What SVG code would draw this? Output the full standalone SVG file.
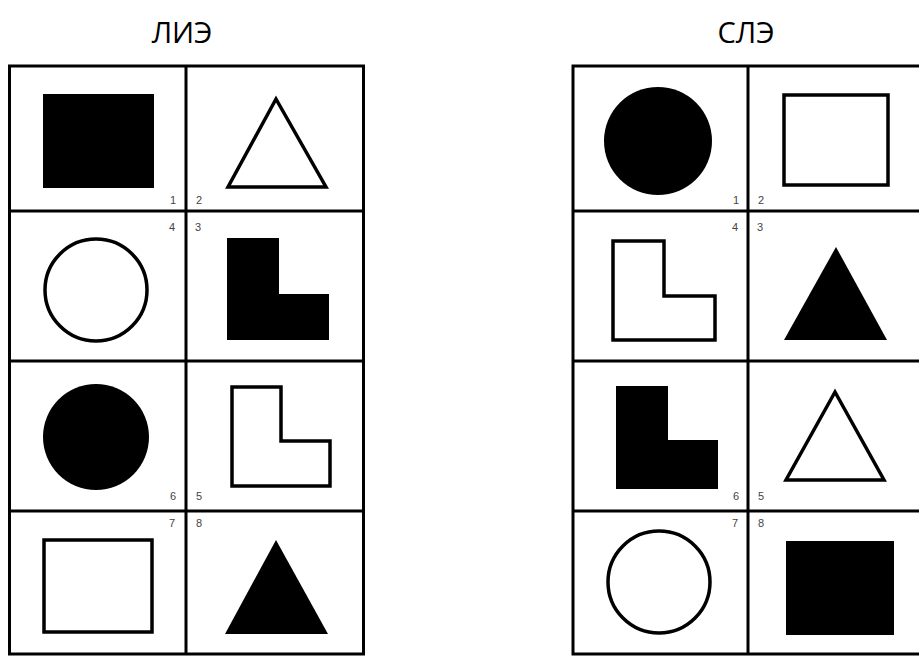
<svg xmlns="http://www.w3.org/2000/svg" width="919" height="657" viewBox="0 0 919 657">
<style>
.grid{fill:none;stroke:#000;stroke-width:3}
.o{fill:#fff;stroke:#000;stroke-width:3.5;stroke-linejoin:miter}
.f{fill:#000;stroke:none}
.t{font-family:"Open Sans","DejaVu Sans",sans-serif;font-size:29px;fill:#000;text-anchor:middle}
.n{font-family:"Liberation Sans",sans-serif;font-size:11px;fill:#444;text-anchor:middle}
</style>
<rect width="919" height="657" fill="#fff"/>
<text class="t" x="182" y="43">ЛИЭ</text>
<text class="t" x="746" y="43">СЛЭ</text>
<g id="grid-left">
<rect class="grid" x="9.5" y="66" width="354" height="588"/>
<line class="grid" x1="186" y1="66" x2="186" y2="654"/>
<line class="grid" x1="9.5" y1="211" x2="363.5" y2="211"/>
<line class="grid" x1="9.5" y1="361" x2="363.5" y2="361"/>
<line class="grid" x1="9.5" y1="511" x2="363.5" y2="511"/>
</g>
<g id="grid-right">
<rect class="grid" x="573" y="66" width="360" height="588"/>
<line class="grid" x1="748" y1="66" x2="748" y2="654"/>
<line class="grid" x1="573" y1="211" x2="933" y2="211"/>
<line class="grid" x1="573" y1="361" x2="933" y2="361"/>
<line class="grid" x1="573" y1="511" x2="933" y2="511"/>
</g>
<g id="labels">
<text class="n" x="173" y="204">1</text><text class="n" x="199" y="204">2</text>
<text class="n" x="172" y="231">4</text><text class="n" x="198" y="231">3</text>
<text class="n" x="173" y="500">6</text><text class="n" x="199" y="500">5</text>
<text class="n" x="172" y="527">7</text><text class="n" x="199" y="527">8</text>
<text class="n" x="736" y="204">1</text><text class="n" x="761" y="204">2</text>
<text class="n" x="735" y="231">4</text><text class="n" x="760" y="231">3</text>
<text class="n" x="736" y="500">6</text><text class="n" x="761" y="500">5</text>
<text class="n" x="735" y="527">7</text><text class="n" x="761" y="527">8</text>
</g>
<g id="left-1"><rect class="f" x="43" y="94" width="111" height="94"/></g>
<g id="left-2"><polygon class="o" points="276,99 228,187 326,187"/></g>
<g id="left-4"><circle class="o" cx="96" cy="290" r="51"/></g>
<g id="left-3"><polygon class="f" points="227,238 279,238 279,294 329,294 329,340 227,340"/></g>
<g id="left-6"><circle class="f" cx="96" cy="437" r="53"/></g>
<g id="left-5"><polygon class="o" points="232,387 281,387 281,441 330,441 330,486 232,486"/></g>
<g id="left-7"><rect class="o" x="44" y="540" width="108" height="92"/></g>
<g id="left-8"><polygon class="f" points="276,540 225,634 328,634"/></g>
<g id="right-1"><circle class="f" cx="658" cy="141" r="54"/></g>
<g id="right-2"><rect class="o" x="784" y="95" width="104" height="90"/></g>
<g id="right-4"><polygon class="o" points="613,241 664,241 664,296 715,296 715,340 613,340"/></g>
<g id="right-3"><polygon class="f" points="836,247 784,340 887,340"/></g>
<g id="right-6"><polygon class="f" points="616,386 668,386 668,440 718,440 718,489 616,489"/></g>
<g id="right-5"><polygon class="o" points="835,392 786,480 884,480"/></g>
<g id="right-7"><circle class="o" cx="659" cy="582" r="51"/></g>
<g id="right-8"><rect class="f" x="786" y="541" width="108" height="94"/></g>
</svg>
